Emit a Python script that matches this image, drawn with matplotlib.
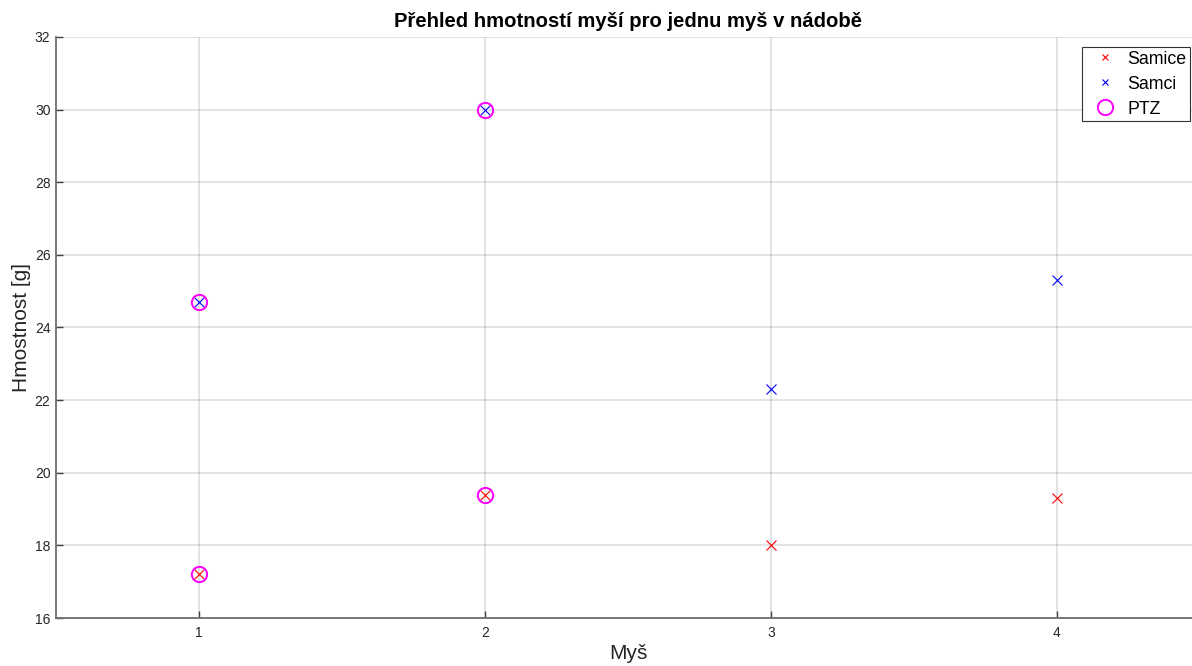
import matplotlib
matplotlib.use("Agg")

import matplotlib.pyplot as plt

# data
samice_x = [1, 2, 3, 4]
samice_y = [17.2, 19.4, 18.0, 19.3]
samci_x = [1, 2, 3, 4]
samci_y = [24.7, 30.0, 22.3, 25.3]
ptz_x = [1, 2, 1, 2]
ptz_y = [17.2, 19.4, 24.7, 30.0]

x_ticks = [1, 2, 3, 4]
y_ticks = [16, 18, 20, 22, 24, 26, 28, 30, 32]

plt.rcParams['font.family'] = ['Liberation Sans', 'DejaVu Sans']

W, H = 1192, 666
fig = plt.figure(figsize=(W / 100, H / 100), dpi=100)
# axes run past the right edge of the figure, like the cropped original
left, right, top, bottom = 56, 1200, 37, 618
ax = fig.add_axes([left / W, 1 - bottom / H, (right - left) / W, (bottom - top) / H])

ax.plot(samice_x, samice_y, 'x', color='red', markersize=6.5, markeredgewidth=0.8, label='Samice')
ax.plot(samci_x, samci_y, 'x', color='blue', markersize=6.5, markeredgewidth=0.8, label='Samci')
ax.plot(ptz_x, ptz_y, 'o', color='magenta', markerfacecolor='none', markersize=11,
        markeredgewidth=1.4, label='PTZ')

ax.set_xlim(0.5, 4.5)
ax.set_ylim(16, 32)
ax.set_xticks(x_ticks)
ax.set_yticks(y_ticks)

ax.grid(True, color='#262626', alpha=0.15, linewidth=1.2)
ax.set_axisbelow(True)
for s in ['top', 'right']:
    ax.spines[s].set_visible(False)
for s in ['left', 'bottom']:
    ax.spines[s].set_color('#6e6e6e')
    ax.spines[s].set_linewidth(1.3)
ax.tick_params(direction='in', length=5, width=1, color='#404040',
               labelcolor='#262626', labelsize=10)
ax.tick_params(axis='y', pad=4)
ax.tick_params(axis='x', pad=6)

ax.set_title('Přehled hmotností myší pro jednu myš v nádobě', fontsize=14.6,
             fontweight='bold', pad=7)
ax.set_xlabel('Myš', fontsize=15, color='#262626')
ax.set_ylabel('Hmostnost [g]', fontsize=15, color='#262626')
ax.xaxis.set_label_coords(628 / W, 1 - 644 / H, transform=fig.transFigure)
ax.yaxis.set_label_coords(31 / W, 1 - 327 / H, transform=fig.transFigure)

leg = ax.legend(loc='upper left', bbox_to_anchor=(1082 / W, 1 - 47 / H),
                bbox_transform=fig.transFigure, fontsize=12.8, fancybox=False,
                edgecolor='#333333', framealpha=1, borderpad=0.2, borderaxespad=0,
                handletextpad=0.15, labelspacing=0.45, handlelength=2.2)
leg.get_frame().set_linewidth(0.8)
leg.legend_handles[0].set_markersize(5)
leg.legend_handles[1].set_markersize(5)

fig.savefig('out.png', dpi=100)
